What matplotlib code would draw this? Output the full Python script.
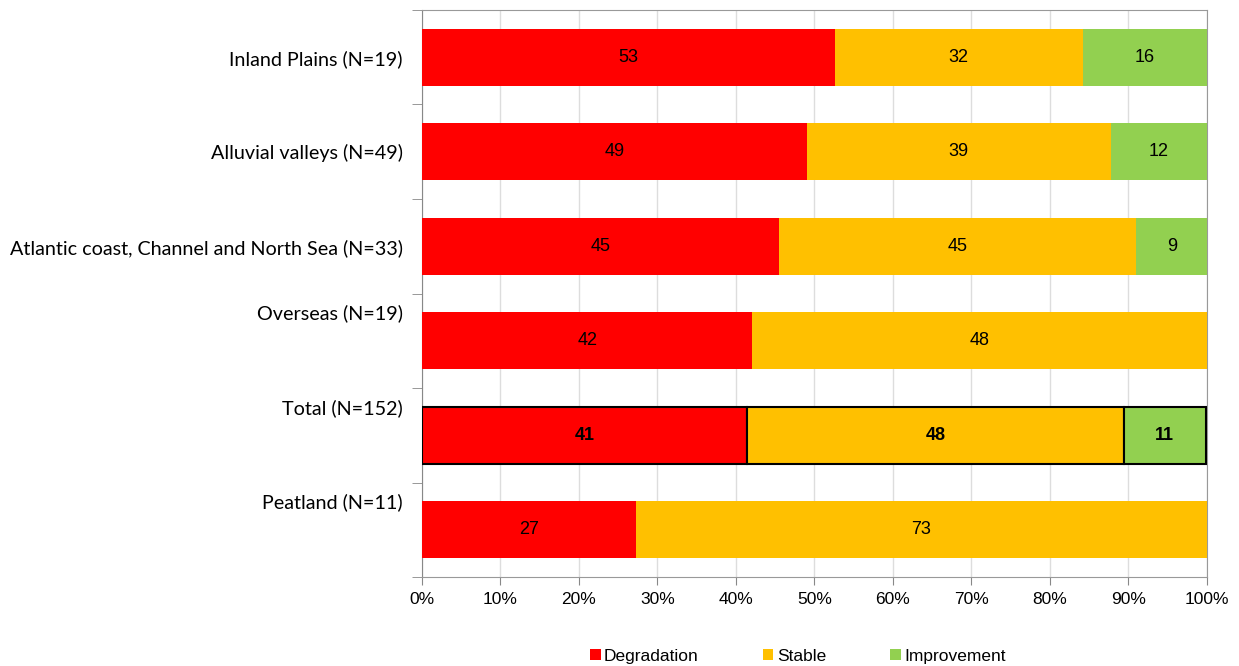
import numpy as np
import matplotlib.pyplot as plt
from matplotlib.patches import Patch
from matplotlib.transforms import ScaledTranslation

# data (percent of sites per region)
categories = ['Inland Plains (N=19)', 'Alluvial valleys (N=49)',
              'Atlantic coast, Channel and North Sea (N=33)', 'Overseas (N=19)',
              'Total (N=152)', 'Peatland (N=11)']
degradation = [52.6, 49.0, 45.5, 42.1, 41.4, 27.3]
stable = [31.6, 38.8, 45.5, 57.9, 48.0, 72.7]
improvement = [15.8, 12.2, 9.1, 0.0, 10.5, 0.0]
# labels as printed on the chart
lab_deg = ['53', '49', '45', '42', '41', '27']
lab_sta = ['32', '39', '45', '48', '48', '73']
lab_imp = ['16', '12', '9', '', '11', '']

series = [('Degradation', degradation, lab_deg, '#FF0000'),
          ('Stable', stable, lab_sta, '#FFC000'),
          ('Improvement', improvement, lab_imp, '#92D050')]

fig = plt.figure(figsize=(12.39, 6.66), dpi=100)
ax = fig.add_axes([0.3406, 0.1336, 0.974 - 0.3406, 0.985 - 0.1336])

y = np.arange(len(categories))
left = np.zeros(len(categories))
handles = []
for name, vals, labs, col in series:
    vals = np.array(vals)
    for i in range(len(categories)):
        total = categories[i].startswith('Total')
        if vals[i] <= 0:
            continue
        ax.barh(y[i], vals[i], left=left[i], height=0.6, color=col,
                edgecolor='black' if total else 'none', linewidth=1.5 if total else 0,
                zorder=3)
        ax.text(left[i] + vals[i] / 2, y[i], labs[i], ha='center', va='center',
                fontsize=13, fontweight='bold' if total else 'normal',
                family='Liberation Sans', zorder=4)
    handles.append(Patch(facecolor=col, label=name))
    left = left + vals

ax.set_xlim(0, 100)
ax.set_ylim(len(categories) - 0.5, -0.5)
ax.set_xticks(np.arange(0, 101, 10))
ax.set_xticklabels(['%d%%' % v for v in range(0, 101, 10)], family='Liberation Sans', fontsize=12.5)
ax.set_yticks(y)
ax.set_yticklabels(categories, family='Lato', fontsize=14.2)
ax.set_yticks(np.arange(-0.5, len(categories), 1), minor=True)
ax.tick_params(axis='y', which='major', length=0, pad=14)
ax.tick_params(axis='y', which='minor', length=7, color='#888888')
ax.tick_params(axis='x', length=6, color='#888888', pad=5)
ax.grid(axis='x', color='#DDDDDD', linewidth=1, zorder=0)
for s in ax.spines.values():
    s.set_color('#999999')
ax.spines['left'].set_color('#888888')

# the lower three region labels sit at the top of their band
for lbl in ax.get_yticklabels()[3:]:
    lbl.set_transform(lbl.get_transform() + ScaledTranslation(0, 29 / 100, fig.dpi_scale_trans))

leg = fig.legend(handles=handles, loc='lower center', bbox_to_anchor=(0.644, -0.02), ncol=3,
                 frameon=False, handlelength=0.6, handleheight=0.6, handletextpad=0.2,
                 columnspacing=3.7, prop={'family': 'Liberation Sans', 'size': 12.5})

fig.savefig('out.png', dpi=100)
